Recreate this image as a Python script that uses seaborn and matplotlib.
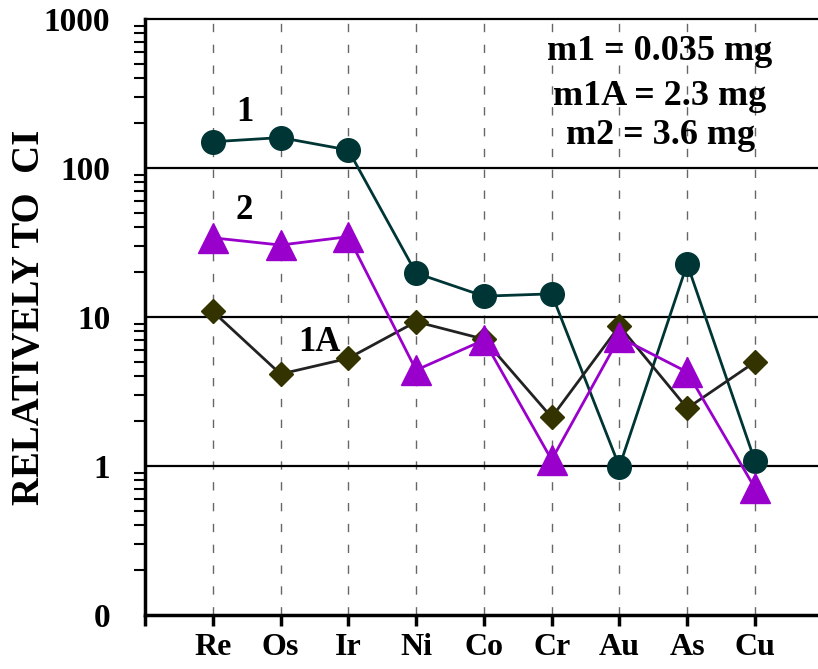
import numpy as np
import pandas as pd
import matplotlib
matplotlib.use('Agg')
import matplotlib.pyplot as plt
import seaborn as sns

# Данные
elements = ['Re', 'Os', 'Ir', 'Ni', 'Co', 'Cr', 'Au', 'As', 'Cu']
s1 = [150, 160, 132, 19.7, 13.8, 14.3, 0.99, 22.7, 1.08]
s1a = [10.9, 4.14, 5.28, 9.3, 7.1, 2.12, 8.7, 2.44, 4.99]
s2 = [34, 30.4, 34.6, 4.4, 7.0, 1.1, 7.3, 4.27, 0.71]
series_names = ['1', '1A', '2']
y_ticks = [0.1, 1, 10, 100, 1000]
y_tick_labels = ['0', '1', '10', '100', '1000']
mass_notes = ['m1 = 0.035 mg', 'm1A = 2.3 mg', 'm2 = 3.6 mg']

pos = np.arange(1, len(elements) + 1)
df = pd.DataFrame({
    'pos': np.tile(pos, 3),
    'value': s1 + s1a + s2,
    'series': np.repeat(series_names, len(elements)),
})

sns.set_theme(style='white', rc={'text.color': 'black', 'axes.labelcolor': 'black',
                                 'xtick.color': 'black', 'ytick.color': 'black'})
plt.rcParams['font.family'] = ['Liberation Serif', 'DejaVu Serif']
plt.rcParams['font.weight'] = 'bold'

fig = plt.figure(figsize=(8.18, 6.69), dpi=100)
ax = fig.add_axes([145 / 818, 54 / 669, 1 - 145 / 818, 596 / 669])

colors = {'1': '#003535', '1A': '#333300', '2': '#9900cc'}
line_colors = {'1': '#003535', '1A': '#222222', '2': '#9900cc'}
markers = {'1': 'o', '1A': 'D', '2': '^'}
msizes = {'1': 17, '1A': 12, '2': 21}

# вертикальные пунктирные линии
for p in pos:
    ax.axvline(p, color='#666666', lw=1, dashes=(6, 9), zorder=0)
for v in [1, 10, 100]:
    ax.axhline(v, color='black', lw=1.6, zorder=1)

for name in series_names:
    sub = df[df['series'] == name]
    sns.lineplot(data=sub, x='pos', y='value', ax=ax, color=line_colors[name],
                 lw=2, zorder=2, legend=False)
    ax.plot(sub['pos'], sub['value'], linestyle='none', marker=markers[name],
            markersize=msizes[name], color=colors[name], zorder=3)

ax.set_yscale('log')
ax.set_ylim(0.1, 1000)
ax.set_xlim(0, 9.93)
ax.set_yticks(y_ticks)
ax.set_yticklabels(y_tick_labels)
ax.set_xticks(np.concatenate([[0], pos]))
ax.set_xticklabels([''] + elements)
ax.set_xlabel('')
ax.set_ylabel('')

for side in ['left', 'bottom']:
    ax.spines[side].set_linewidth(2.5)
    ax.spines[side].set_color('black')
ax.spines['top'].set_linewidth(1.6)
ax.spines['top'].set_color('black')
ax.spines['right'].set_visible(False)

ax.tick_params(axis='y', which='major', direction='out', length=18, width=2,
               pad=7, labelsize=24)
ax.tick_params(axis='y', which='minor', direction='out', length=8, width=1.5,
               left=True)
ax.tick_params(axis='x', which='major', direction='out', length=8, width=2.5,
               pad=5, labelsize=23, bottom=True)

ax.text(1.47, 234, '1', fontsize=25, fontweight='bold', ha='center', va='center')
ax.text(1.46, 52, '2', fontsize=25, fontweight='bold', ha='center', va='center')
ax.text(2.57, 6.7, '1A', fontsize=25, fontweight='bold', ha='center', va='center')
for txt, yv in zip(mass_notes, [601, 300, 166]):
    ax.text(7.6, yv, txt, fontsize=26, fontweight='bold', ha='center', va='center')

fig.text(30 / 818, 1 - 317 / 669, 'RELATIVELY TO  CI', rotation=90,
         fontsize=28, fontweight='bold', ha='center', va='center')

fig.savefig('out.png', dpi=100)
